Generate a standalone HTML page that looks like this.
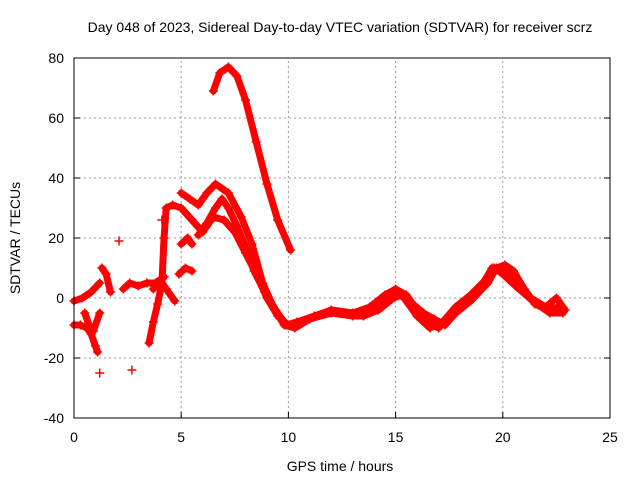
<!DOCTYPE html>
<html><head><meta charset="utf-8"><style>
body{margin:0;background:#fff}
svg{display:block;font-family:"Liberation Sans",sans-serif}
</style></head><body>
<svg id="chart" width="640" height="480" viewBox="0 0 640 480">
<rect width="640" height="480" fill="#fff"/>
<text x="340" y="32" font-size="14" text-anchor="middle">Day 048 of 2023, Sidereal Day-to-day VTEC variation (SDTVAR) for receiver scrz</text>
<text transform="translate(20,238) rotate(-90)" font-size="14" text-anchor="middle">SDTVAR / TECUs</text>
<text x="340" y="471" font-size="14" text-anchor="middle">GPS time / hours</text>
<g id="grid"></g><g id="ticks"></g><g id="series"></g>
<rect x="74" y="58" width="536" height="360" fill="none" stroke="#000" stroke-width="1"/>
</svg>
<script>
const xTicks=[0,5,10,15,20,25];
const yTicks=[-40,-20,0,20,40,60,80];
const sArcH=[6.5,6.8,7.2,7.6,8.0,8.5,9.0,9.5,10.1];
const sArcV=[69,75,77,74,66,52,38,26,16];
const sMainH=[5.0,5.4,5.8,6.2,6.6,7.2,7.8,8.3,8.8,9.3,9.8,10.3,11,12,13,13.8,14.5,15,15.5,16,16.7,17,17.6,18.3,19,19.5,20,20.5,21.3,22,22.5,22.8];
const sMainV=[35,33,31,35,38,35,27,18,5,-3,-9,-10,-7,-4,-5,-3,1,3,1,-4,-9,-10,-5,-1,4,10,10,7,0,-3,0,-3];
const sSecH=[3.5,3.7,3.9,4.1,4.2,4.3,4.6,5.0,5.5,6.0,6.5,7.0,7.5,8.0,8.5,9.0,9.5,10.0,10.5,11,12,13,13.5,14.2,14.9,15.3,15.8,16.3,16.8,17.3,17.8,18.5,19.3,19.7,20.1,20.5,21.0,21.5,22.1,22.6,22.9];
const sSecV=[-15,-8,-2,5,20,30,31,30,26,22,27,26,22,15,8,0,-6,-9,-9,-7,-5,-6,-6,-4,0,1,-2,-5,-7,-9,-5,-1,5,10,11,9,3,-2,-4,-3,-4];
const sThirdH=[6.2,6.6,6.9,7.2,7.6,8.0,8.4,8.9,9.4,9.9,10.4,11.2,12,13,14,14.6,15,15.4,16,16.6,17.2,17.8,18.5,19.2,19.6,20,20.6,21.4,22.2,22.8];
const sThirdV=[25,30,33,30,24,17,9,2,-4,-9,-8,-6,-4,-6,-4,-1,2,0,-6,-10,-8,-3,1,6,10,8,4,-1,-5,-5];
const fA_H=[0,0.4,0.8,1.2],fA_V=[-1,0,2,5];
const fB_H=[0,0.3,0.6,0.8,1.0,1.1],fB_V=[-9,-9,-10,-12,-16,-18];
const fC_H=[0.5,0.7,0.9,1.2],fC_V=[-5,-9,-11,-5];
const fD_H=[1.3,1.5,1.7],fD_V=[10,8,2];
const fE_H=[2.3,2.6,3.0,3.4,3.8,4.2],fE_V=[3,5,4,5,5,7];
const fF_H=[3.7,4.0,4.3,4.7],fF_V=[3,6,3,-1];
const fG_H=[4.9,5.2,5.5],fG_V=[8,10,9];
const fH_H=[5.0,5.3,5.5],fH_V=[18,20,18];
const fI_H=[5.8,6.1],fI_V=[21,24];
const singlesH=[1.2,2.7,2.1,4.1],singlesV=[-25,-24,19,26];
const seriesList=[[sArcH,sArcV],[sMainH,sMainV],[sSecH,sSecV],[sThirdH,sThirdV],[fA_H,fA_V],[fB_H,fB_V],[fC_H,fC_V],[fD_H,fD_V],[fE_H,fE_V],[fF_H,fF_V],[fG_H,fG_V],[fH_H,fH_V],[fI_H,fI_V]];
const X0=74,X1=610,Y0=418,Y1=58;
function xs(h){return X0+(h-0)/25*(X1-X0);}
function ys(v){return Y0-(v+40)/120*(Y0-Y1);}
const NS='http://www.w3.org/2000/svg';
const grid=document.getElementById('grid'),ticks=document.getElementById('ticks'),ser=document.getElementById('series');
function mk(tag,at,p){const e=document.createElementNS(NS,tag);for(const k in at)e.setAttribute(k,at[k]);p.appendChild(e);return e;}
xTicks.forEach(t=>{const x=xs(t);
 if(t>0&&t<25){const g=mk('line',{x1:x,x2:x,y1:Y0,y2:Y1,stroke:'#999','stroke-dasharray':'2,3'},grid);
 
 }
 const l=mk('line',{x1:x,x2:x,y1:Y0,y2:Y0-6,stroke:'#000'},ticks);
 
 
 const tx=mk('text',{x:x,y:Y0+24,'font-size':14,'text-anchor':'middle'},ticks);tx.textContent=t;
 
 });
yTicks.forEach(t=>{const y=ys(t);
 if(t>-40&&t<80){const g=mk('line',{x1:X0,x2:X1,y1:y,y2:y,stroke:'#999','stroke-dasharray':'2,3'},grid);
 
 }
 const l=mk('line',{x1:X0,x2:X0+6,y1:y,y2:y,stroke:'#000'},ticks);
 
 
 const l2=mk('line',{x1:X1,x2:X1-6,y1:y,y2:y,stroke:'#000'},ticks);
 
 
 const tx=mk('text',{x:X0-10,y:y+5,'font-size':14,'text-anchor':'end'},ticks);tx.textContent=t;
 
 });
function plus(x,y){const p=mk('path',{d:`M${x-4.5},${y}H${x+4.5}M${x},${y-4.5}V${y+4.5}`,stroke:'#f00','stroke-width':1.5},ser);
 
 }
seriesList.forEach(([H,V])=>{
 const pts=H.map((h,i)=>xs(h)+','+ys(V[i])).join(' ');
 const pl=mk('polyline',{points:pts,fill:'none',stroke:'#f00','stroke-width':7,'stroke-linejoin':'round','stroke-linecap':'round'},ser);
 
 
 H.forEach((h,i)=>plus(xs(h),ys(V[i])));});
singlesH.forEach((h,i)=>plus(xs(h),ys(singlesV[i])));
</script>
</body></html>
